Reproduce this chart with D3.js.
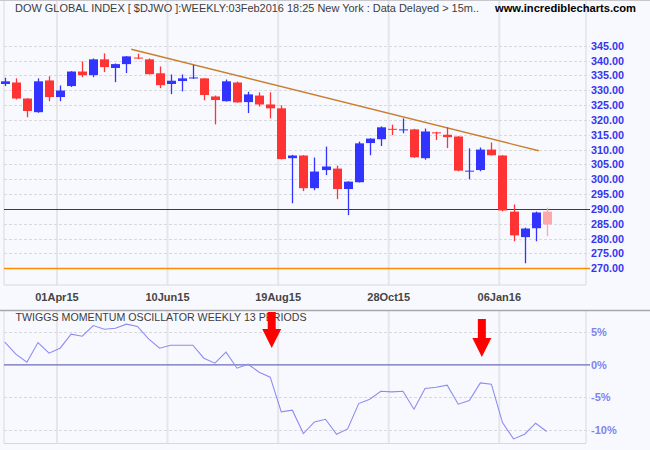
<!DOCTYPE html>
<html><head><meta charset="utf-8">
<script src="https://cdn.jsdelivr.net/npm/d3@7"></script>
<style>html,body{margin:0;padding:0;background:#f8f9fe;}svg{display:block;}</style>
</head><body>
<svg id="c" width="650" height="450"></svg>
<script>
// ---- data ----
const weeks = ["2015-02-27","2015-03-06","2015-03-13","2015-03-20","2015-03-27","2015-04-03","2015-04-10","2015-04-17","2015-04-24","2015-05-01",
"2015-05-08","2015-05-15","2015-05-22","2015-05-29","2015-06-05","2015-06-12","2015-06-19","2015-06-26","2015-07-03","2015-07-10",
"2015-07-17","2015-07-24","2015-07-31","2015-08-07","2015-08-14","2015-08-21","2015-08-28","2015-09-04","2015-09-11","2015-09-18",
"2015-09-25","2015-10-02","2015-10-09","2015-10-16","2015-10-23","2015-10-30","2015-11-06","2015-11-13","2015-11-20","2015-11-27",
"2015-12-04","2015-12-11","2015-12-18","2015-12-25","2016-01-01","2016-01-08","2016-01-15","2016-01-22","2016-01-29","2016-02-05"];
const open  = [332.1,332.6,327.2,322.6,333.3,327.7,331.4,336.3,335.1,340.4,
337.5,338.8,341.0,340.4,335.7,332.1,333.1,334.0,334.0,327.9,
326.3,332.6,326.0,328.2,325.2,323.9,307.1,308.0,297.0,303.1,
303.6,296.7,299.0,312.2,313.5,317.0,316.6,316.8,307.1,315.8,
315.0,314.4,302.7,303.1,310.0,308.0,289.1,280.5,283.5,289.1];
const high  = [334.2,334.0,327.3,334.0,334.7,331.6,336.4,339.7,340.7,342.4,
339.0,341.5,342.3,340.7,338.0,335.3,335.3,338.5,334.0,328.2,
333.6,332.9,329.5,329.3,329.3,324.9,308.2,308.1,307.3,311.0,
304.6,299.3,312.7,313.8,317.8,318.4,320.5,317.0,317.1,316.0,
317.5,314.5,310.4,310.7,312.4,308.1,291.5,283.7,289.1,290.4];
const low   = [331.4,326.9,320.9,322.4,326.3,326.3,331.1,334.4,334.4,336.1,
332.7,335.8,340.5,335.3,330.7,328.7,329.6,333.8,326.6,318.5,
326.2,325.8,322.3,324.5,320.5,306.7,291.9,296.0,296.3,301.4,
293.3,287.9,298.9,308.1,311.2,314.9,315.5,307.2,306.6,313.2,
310.5,302.7,300.0,302.7,308.0,289.2,279.1,271.7,279.1,280.8];
const close = [333.0,327.2,323.0,333.0,327.7,329.9,336.3,335.1,340.4,337.8,
338.8,341.4,340.7,335.4,331.7,333.2,334.0,334.3,328.4,326.7,
333.0,325.9,328.6,325.2,323.9,306.8,308.0,297.0,302.6,304.3,
296.7,299.2,312.1,313.7,317.5,316.8,316.8,307.4,316.1,315.5,
314.2,302.9,302.9,310.0,308.1,289.5,281.1,283.4,288.8,284.8];
const oscillator = [3.48,1.64,0.41,3.43,1.79,2.56,4.71,4.40,6.04,5.48,
5.63,6.25,5.89,3.99,2.56,3.02,3.02,3.02,1.02,0.26,
1.95,-0.51,0.10,-1.13,-1.89,-7.22,-6.96,-10.55,-8.76,-8.35,
-10.65,-9.83,-5.94,-5.27,-4.05,-4.15,-4.05,-6.81,-3.64,-3.43,
-3.12,-6.04,-5.48,-2.76,-2.97,-8.86,-11.37,-10.65,-8.96,-10.24];
const dateTicks = ["2015-04-01","2015-06-10","2015-08-19","2015-10-28","2016-01-06"];
const priceTicks = [270,275,280,285,290,295,300,305,310,315,320,325,330,335,340,345];
const oscTicks = [5,0,-5,-10];
const trendLine = [["2015-05-18",343.8],["2016-01-31",309.6]];
const supportLevels = [290,270];
const signalWeeks = [24,43];
const signalTips = [2.6,1.2];

// ---- setup ----
const parse = d3.timeParse("%Y-%m-%d");
const fmtTick = d3.timeFormat("%d%b%y");
const svg = d3.select("#c");
const W = 650;
const bg = "#f8f9fe";
svg.append("rect").attr("width",650).attr("height",450).attr("fill",bg);

const x = d3.scaleTime().domain([parse(weeks[0]), parse(weeks[49])]).range([4.8, 546.7]);
const y = d3.scaleLinear().domain([270,345]).range([268.3,45.7]);
const yo = d3.scaleLinear().domain([5,-10]).range([332.3,430]);

const L = 4, R = 586;
const mainTop = 0, mainBot = 285, oscTop = 310.5, oscBot = 443.5;

// vertical grid
const tickDates = dateTicks.map(parse);
[[mainTop,mainBot],[oscTop,oscBot]].forEach(([t,b])=>{
  svg.append("g").selectAll("line").data(tickDates).join("line")
    .attr("x1",d=>x(d)).attr("x2",d=>x(d)).attr("y1",t).attr("y2",b)
    .attr("stroke","#e6e6ea").attr("stroke-width",2);
});

// frames
svg.append("path").attr("d",`M${L},${mainTop}V${mainBot}H${R}V${mainTop}`).attr("fill","none").attr("stroke","#d8d8dc").attr("stroke-width",1);
svg.append("path").attr("d",`M${L},${oscTop}V${oscBot}H${R}V${oscTop}`).attr("fill","none").attr("stroke","#d8d8dc").attr("stroke-width",1);
svg.append("line").attr("x1",0).attr("x2",W).attr("y1",0.5).attr("y2",0.5).attr("stroke","#c8c8cc");
svg.append("line").attr("x1",0).attr("x2",W).attr("y1",oscTop).attr("y2",oscTop).attr("stroke","#a8a8ac").attr("stroke-width",1.5);

// horizontal price grid
svg.append("g").selectAll("line").data(priceTicks.filter(v=>!supportLevels.includes(v))).join("line")
  .attr("x1",L).attr("x2",590).attr("y1",d=>Math.round(y(d))+0.5).attr("y2",d=>Math.round(y(d))+0.5)
  .attr("stroke","#d9d9dd").attr("stroke-dasharray","3,2");

// support lines
const supColors = ["#c80000","#ff8c00"];
svg.append("g").selectAll("line").data(supportLevels).join("line")
  .attr("x1",L).attr("x2",590).attr("y1",d=>Math.round(y(d))+0.5).attr("y2",d=>Math.round(y(d))+0.5)
  .attr("stroke",(d,i)=>supColors[i]).attr("stroke-width",(d,i)=>i===0?1.2:1.5);

// price labels
svg.append("g").selectAll("text").data(priceTicks).join("text")
  .attr("x",591).attr("y",d=>y(d)+4)
  .attr("font-family","Liberation Sans, Arial, sans-serif").attr("font-weight","bold").attr("font-size",11)
  .attr("fill","#3535f0").attr("textLength",33).attr("lengthAdjust","spacingAndGlyphs")
  .text(d=>d3.format(".2f")(d));

// trend line
svg.append("line")
  .attr("x1",x(parse(trendLine[0][0]))).attr("y1",y(trendLine[0][1]))
  .attr("x2",x(parse(trendLine[1][0]))).attr("y2",y(trendLine[1][1]))
  .attr("stroke","#c8802e").attr("stroke-width",1.4);

// candles
const candles = weeks.map((w,i)=>({d:parse(w),o:open[i],h:high[i],l:low[i],c:close[i],last:i===weeks.length-1}));
const col = d => d.last ? "#ffa8a8" : (d.c>=d.o ? "#3333ff" : "#ff3333");
const cg = svg.append("g");
cg.selectAll("line").data(candles).join("line")
  .attr("x1",d=>Math.round(x(d.d))+0.5).attr("x2",d=>Math.round(x(d.d))+0.5)
  .attr("y1",d=>y(d.h)).attr("y2",d=>y(d.l)).attr("stroke",col).attr("stroke-width",1.3);
cg.selectAll("rect").data(candles).join("rect")
  .attr("x",d=>Math.round(x(d.d))+0.5-4.5).attr("width",9)
  .attr("y",d=>y(Math.max(d.o,d.c))).attr("height",d=>Math.max(1,Math.abs(y(d.o)-y(d.c))))
  .attr("fill",col);

// x tick labels
svg.append("g").selectAll("text").data(tickDates).join("text")
  .attr("x",d=>x(d)).attr("y",301).attr("text-anchor","middle")
  .attr("font-family","Liberation Sans, Arial, sans-serif").attr("font-weight","bold").attr("font-size",11)
  .attr("fill","#454545").text(d=>fmtTick(d));

// header
svg.append("text").attr("x",15).attr("y",12)
  .attr("font-family","Liberation Sans, Arial, sans-serif").attr("font-size",11).attr("fill","#3c3c3c")
  .attr("textLength",464).attr("lengthAdjust","spacingAndGlyphs")
  .text("DOW GLOBAL INDEX [ $DJWO ]:WEEKLY:03Feb2016 18:25 New York : Data Delayed > 15m..");
svg.append("text").attr("x",495).attr("y",12)
  .attr("font-family","Liberation Sans, Arial, sans-serif").attr("font-size",11).attr("font-weight","bold").attr("fill","#000")
  .attr("textLength",141).attr("lengthAdjust","spacingAndGlyphs")
  .text("www.incrediblecharts.com");

// oscillator grid
svg.append("g").selectAll("line").data(oscTicks.filter(v=>v!==0)).join("line")
  .attr("x1",L).attr("x2",590).attr("y1",d=>Math.round(yo(d))+0.5).attr("y2",d=>Math.round(yo(d))+0.5)
  .attr("stroke","#d9d9dd").attr("stroke-dasharray","3,2");
svg.append("line").attr("x1",L).attr("x2",590).attr("y1",yo(0)).attr("y2",yo(0))
  .attr("stroke","#6c6cb8").attr("stroke-width",1.4);
svg.append("g").selectAll("text").data(oscTicks).join("text")
  .attr("x",591).attr("y",d=>yo(d)+4)
  .attr("font-family","Liberation Sans, Arial, sans-serif").attr("font-weight","bold").attr("font-size",11)
  .attr("fill","#8282ee").text(d=>d+"%");

// oscillator title
svg.append("text").attr("x",15.5).attr("y",321)
  .attr("font-family","Liberation Sans, Arial, sans-serif").attr("font-size",11).attr("fill","#3c3c3c")
  .attr("textLength",291).attr("lengthAdjust","spacingAndGlyphs")
  .text("TWIGGS MOMENTUM OSCILLATOR WEEKLY 13 PERIODS");

// oscillator line
svg.append("path").datum(oscillator)
  .attr("d",d3.line().x((d,i)=>x(parse(weeks[i]))).y(d=>yo(d)))
  .attr("fill","none").attr("stroke","#8c8cf0").attr("stroke-width",1.1);

// signal arrows
signalWeeks.forEach((wi,k)=>{
  const cx = x(parse(weeks[wi])) + 1.5;
  const tip = yo(signalTips[k]);
  const headTop = tip - 19, barTop = oscTop + 1.5 + (k===1?7:0);
  svg.append("path")
    .attr("d",`M${cx-4},${barTop}H${cx+4}V${headTop}H${cx+9.5}L${cx},${tip}L${cx-9.5},${headTop}H${cx-4}Z`)
    .attr("fill","#ff0000");
});
</script>
</body></html>
